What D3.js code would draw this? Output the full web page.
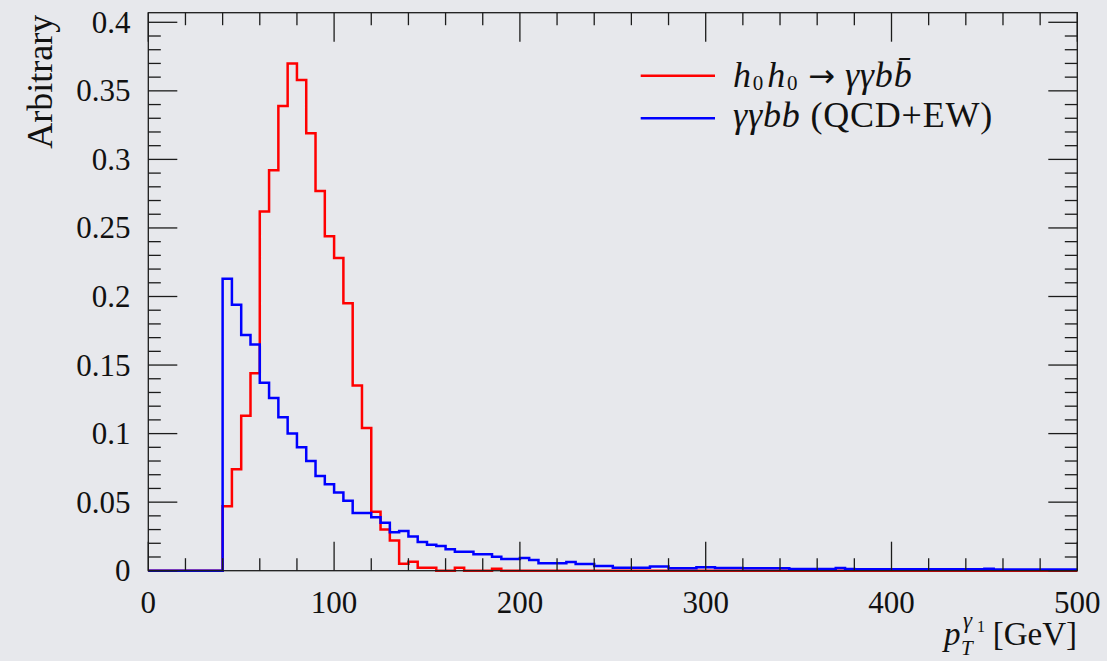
<!DOCTYPE html>
<html>
<head>
<meta charset="utf-8">
<script src="https://cdn.jsdelivr.net/npm/d3@7"></script>
<style>
  html, body { margin: 0; padding: 0; background: #e7e8ec; }
  svg { display: block; }
  text { font-family: "Liberation Serif", "Times New Roman", serif; fill: #111; }
</style>
</head>
<body>
<svg id="chart" width="1107" height="661"></svg>
<script>
// ---- Data (5 GeV bins from 0 to 500 GeV) ----
const binEdgesStart = [0,5,10,15,20,25,30,35,40,45,50,55,60,65,70,75,80,85,90,95,
  100,105,110,115,120,125,130,135,140,145,150,155,160,165,170,175,180,185,190,195,
  200,205,210,215,220,225,230,235,240,245,250,255,260,265,270,275,280,285,290,295,
  300,305,310,315,320,325,330,335,340,345,350,355,360,365,370,375,380,385,390,395,
  400,405,410,415,420,425,430,435,440,445,450,455,460,465,470,475,480,485,490,495];
const binWidth = 5;

const signalValues = [0,0,0,0,0,0,0,0,0.047,0.074,
  0.113,0.144,0.262,0.292,0.339,0.370,0.358,0.319,0.277,0.244,
  0.228,0.195,0.135,0.104,0.043,0.030,0.022,0.005,0.0066,0.0022,
  0.0022,0,0,0.0022,0,0,0,0.0015,0,0,
  0,0,0,0,0,0,0,0,0,0,
  0,0,0,0,0,0,0,0,0,0,
  0,0,0,0,0,0,0,0,0,0,
  0,0,0,0,0,0,0,0,0,0,
  0,0,0,0,0,0,0,0,0,0,
  0,0,0,0,0,0,0,0,0,0];

const backgroundValues = [0,0,0,0,0,0,0,0,0.213,0.194,
  0.172,0.165,0.137,0.126,0.112,0.100,0.090,0.080,0.069,0.063,
  0.057,0.051,0.042,0.042,0.039,0.035,0.028,0.029,0.025,0.021,
  0.019,0.018,0.0156,0.0139,0.0139,0.012,0.012,0.0102,0.0085,0.0085,
  0.0093,0.0078,0.0054,0.0054,0.0054,0.0063,0.0049,0.0049,0.0034,0.0034,
  0.0022,0.0022,0.0022,0.0022,0.003,0.003,0.0018,0.0018,0.0018,0.0025,
  0.0025,0.002,0.002,0.002,0.0017,0.0017,0.0017,0.0017,0.0017,0.0012,
  0.0012,0.0012,0.0012,0.0012,0.002,0.0012,0.001,0.001,0.001,0.001,
  0.001,0.001,0.001,0.001,0.001,0.001,0.001,0.001,0.001,0.001,
  0.0015,0.0008,0.0008,0.0008,0.0008,0.0008,0.0008,0.0008,0.0008,0.0008];

const xMajorTicks = [0,100,200,300,400,500];
const xTickLabels = ["0","100","200","300","400","500"];
const xMinorTicks = [20,40,60,80,120,140,160,180,220,240,260,280,320,340,360,380,420,440,460,480];
const yMajorTicks = [0,0.05,0.1,0.15,0.2,0.25,0.3,0.35,0.4];
const yTickLabels = ["0","0.05","0.1","0.15","0.2","0.25","0.3","0.35","0.4"];
const yMinorTicks = [0.01,0.02,0.03,0.04,0.06,0.07,0.08,0.09,0.11,0.12,0.13,0.14,
  0.16,0.17,0.18,0.19,0.21,0.22,0.23,0.24,0.26,0.27,0.28,0.29,0.31,0.32,0.33,0.34,
  0.36,0.37,0.38,0.39];

(function () {
// ---- Layout ----
const pL = 148.3, pR = 1077.3, pT = 12.7, pB = 570.7;
const x = d3.scaleLinear().domain([0, 500]).range([pL, pR]);
const y = d3.scaleLinear().domain([0, 0.407]).range([pB, pT]);

const svg = d3.select("#chart");
svg.append("rect").attr("width", 1107).attr("height", 661).attr("fill", "#e7e8ec");

const axisColor = "#1c1c1c";
const majorLen = 29, minorLen = 12.5;
const g = svg.append("g");

// Histograms
function stepPoints(vals) {
  const pts = binEdgesStart.map((e, i) => [e, vals[i]]);
  pts.push([binEdgesStart[binEdgesStart.length - 1] + binWidth, vals[vals.length - 1]]);
  return pts;
}
const line = d3.line().x(d => x(d[0])).y(d => y(d[1])).curve(d3.curveStepAfter);

g.append("path").datum(stepPoints(signalValues))
  .attr("d", line).attr("fill", "none").attr("stroke", "#ff0000")
  .attr("stroke-width", 2.5).attr("stroke-linejoin", "miter");
g.append("path").datum(stepPoints(backgroundValues))
  .attr("d", line).attr("fill", "none").attr("stroke", "#0000ff")
  .attr("stroke-width", 2.5).attr("stroke-linejoin", "miter");

// Frame
g.append("rect").attr("x", pL).attr("y", pT)
  .attr("width", pR - pL).attr("height", pB - pT)
  .attr("fill", "none").attr("stroke", axisColor).attr("stroke-width", 1.3);

// X ticks (bottom and top, inward)
const tk = g.append("g").attr("stroke", axisColor).attr("stroke-width", 1.3);
xMajorTicks.forEach(v => {
  tk.append("line").attr("x1", x(v)).attr("x2", x(v)).attr("y1", pB).attr("y2", pB - majorLen);
  tk.append("line").attr("x1", x(v)).attr("x2", x(v)).attr("y1", pT).attr("y2", pT + majorLen);
});
xMinorTicks.forEach(v => {
  tk.append("line").attr("x1", x(v)).attr("x2", x(v)).attr("y1", pB).attr("y2", pB - minorLen);
  tk.append("line").attr("x1", x(v)).attr("x2", x(v)).attr("y1", pT).attr("y2", pT + minorLen);
});
// Y ticks (left and right, inward)
yMajorTicks.forEach(v => {
  tk.append("line").attr("x1", pL).attr("x2", pL + majorLen).attr("y1", y(v)).attr("y2", y(v));
  tk.append("line").attr("x1", pR).attr("x2", pR - majorLen).attr("y1", y(v)).attr("y2", y(v));
});
yMinorTicks.forEach(v => {
  tk.append("line").attr("x1", pL).attr("x2", pL + minorLen).attr("y1", y(v)).attr("y2", y(v));
  tk.append("line").attr("x1", pR).attr("x2", pR - minorLen).attr("y1", y(v)).attr("y2", y(v));
});

// Tick labels
const tickFont = 31;
xMajorTicks.forEach((v, i) => {
  svg.append("text").attr("x", x(v)).attr("y", 612.5)
    .attr("text-anchor", "middle").attr("font-size", tickFont).text(xTickLabels[i]);
});
yMajorTicks.forEach((v, i) => {
  svg.append("text").attr("x", 130.5).attr("y", y(v) + 10.5)
    .attr("text-anchor", "end").attr("font-size", tickFont).text(yTickLabels[i]);
});

// Y axis label
svg.append("text").attr("transform", "translate(51.5,81.7) rotate(-90)")
  .attr("text-anchor", "middle").attr("font-size", 36).text("Arbitrary");

// X axis label: p_T^{gamma_1} [GeV]
svg.append("text").attr("x", 944).attr("y", 645).attr("font-size", 33)
  .attr("font-style", "italic").text("p");
svg.append("text").attr("x", 961).attr("y", 655).attr("font-size", 21)
  .attr("font-style", "italic").text("T");
svg.append("text").attr("x", 963).attr("y", 628).attr("font-size", 23)
  .attr("font-style", "italic").text("γ");
svg.append("text").attr("x", 977).attr("y", 632).attr("font-size", 16).text("1");
svg.append("text").attr("x", 1077).attr("y", 645).attr("text-anchor", "end")
  .attr("font-size", 33).text("[GeV]");

// Legend
const legend = svg.append("g");
legend.append("line").attr("x1", 640.7).attr("x2", 715).attr("y1", 75.7).attr("y2", 75.7)
  .attr("stroke", "#ff0000").attr("stroke-width", 2.5);
legend.append("line").attr("x1", 640.7).attr("x2", 715).attr("y1", 118.3).attr("y2", 118.3)
  .attr("stroke", "#0000ff").attr("stroke-width", 2.5);

const t1 = legend.append("text").attr("x", 733).attr("y", 86.7).attr("font-size", 36)
  .attr("letter-spacing", 0.8);
t1.append("tspan").attr("font-style", "italic").text("h");
t1.append("tspan").attr("font-size", 21).attr("dx", 1).attr("dy", 3).text("0");
t1.append("tspan").attr("font-style", "italic").attr("dx", 3).attr("dy", -3).text("h");
t1.append("tspan").attr("font-size", 21).attr("dx", 1).attr("dy", 3).text("0");
t1.append("tspan").attr("dx", 10).attr("dy", -3)
  .style("font-family", "'DejaVu Sans', sans-serif").attr("font-size", 32).text("→");
t1.append("tspan").attr("dx", 9).attr("font-style", "italic").text("γγbb\u0304");

const t2 = legend.append("text").attr("x", 733).attr("y", 127).attr("font-size", 36)
  .attr("letter-spacing", 0.8);
t2.append("tspan").attr("font-style", "italic").text("γγbb");
t2.append("tspan").text(" (QCD+EW)");
})();
</script>
</body>
</html>
